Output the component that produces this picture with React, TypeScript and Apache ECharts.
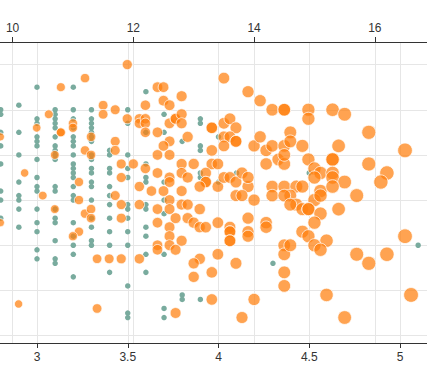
import React, { useEffect, useRef } from 'react';
import * as echarts from 'echarts';

// Green series: bottom axis value (column) and the integer y values in that column
const greenColumns: number[] = [2.8, 2.9, 3.0, 3.1, 3.2, 3.3, 3.4, 3.5, 3.6, 3.7, 3.8, 3.9, 4.0, 4.1, 4.3, 4.5, 5.1];
const greenValues: number[][] = [
  [50, 49, 45, 42, 38, 32, 30, 26],
  [51, 45, 40, 34, 31, 30, 28, 24],
  [55, 48, 47, 44, 43, 42, 39, 35, 33, 32, 28, 25, 23, 19, 17],
  [50, 49, 48, 47, 46, 44, 42, 41, 40, 39, 33, 32, 28, 26, 25, 21, 17, 16],
  [55, 50, 48, 46, 44, 43, 42, 40, 38, 37, 36, 35, 33, 31, 30, 25, 22, 20, 18, 13],
  [50, 48, 47, 46, 45, 44, 43, 40, 39, 37, 36, 34, 33, 30, 26, 24, 21, 20],
  [41, 40, 37, 36, 33, 31, 29, 26, 23, 20, 14],
  [50, 47, 40, 37, 35, 29, 28, 26, 23, 20, 11, 5, 4],
  [54, 45, 38, 35, 34, 29, 28, 24, 22, 18, 14],
  [49, 45, 34, 30, 27, 18, 6, 4],
  [43, 9, 8],
  [48, 47, 42, 41, 36, 35, 8],
  [44, 34],
  [36],
  [16],
  [36],
  [20],
];

// Orange series: [top axis value, y value]
const orangePoints: [number, number][] = [
  [11.9, 60], [11.2, 57], [10.8, 55], [10.6, 49], [10.4, 46], [10.8, 45], [10.8, 45], [11.0, 47], [11.0, 46],
  [11.5, 51], [11.5, 49], [11.7, 50], [11.9, 48], [12.1, 48], [12.1, 47], [9.8, 44], [11.3, 44], [11.2, 41],
  [11.3, 40], [11.7, 43], [11.7, 41], [10.7, 40], [10.2, 36], [11.1, 34], [11.8, 38], [12.0, 38], [11.8, 35],
  [12.1, 33], [10.5, 31], [11.1, 30], [11.7, 31], [11.8, 29], [12.1, 29], [10.7, 28], [9.8, 25], [11.2, 27],
  [11.3, 28], [11.3, 26], [11.8, 26], [11.1, 23], [11.0, 22], [11.4, 17], [11.6, 17], [11.8, 17], [12.1, 17],
  [10.1, 7], [11.4, 6], [12.5, 32],
  [13.5, 57], [12.4, 55], [12.5, 55], [12.2, 51], [12.5, 52], [12.6, 51], [12.8, 53], [13.9, 54], [14.1, 52],
  [14.3, 50], [14.5, 50], [14.5, 50], [12.2, 48], [12.2, 47], [12.2, 45], [12.4, 45], [12.6, 47], [12.7, 48],
  [12.7, 48], [12.8, 49], [12.8, 47], [13.3, 46], [13.3, 46], [13.5, 47], [13.6, 48], [13.7, 46], [13.5, 44],
  [13.6, 44], [13.7, 43], [13.7, 43], [13.5, 42], [12.9, 44], [12.6, 43], [12.5, 42], [12.4, 40], [12.6, 40],
  [13.3, 41], [14.0, 42], [14.1, 44], [14.2, 41], [14.3, 42], [14.5, 42], [14.2, 38], [14.4, 39], [14.5, 38],
  [12.2, 37], [12.8, 38], [13.0, 38], [13.3, 38], [13.4, 38], [12.4, 36], [12.6, 35], [12.6, 34], [12.8, 36],
  [12.9, 35], [13.2, 36], [13.2, 34], [13.2, 34], [13.1, 33], [13.4, 33], [13.5, 35], [13.6, 35], [13.7, 34],
  [13.8, 36], [13.9, 33], [13.9, 35], [12.3, 32], [12.8, 32], [14.3, 33], [14.5, 33],
  [14.9, 50], [14.9, 48], [15.3, 50], [15.5, 49], [15.9, 45], [16.5, 41], [14.6, 45], [14.6, 43], [14.5, 40],
  [14.8, 42], [15.4, 42], [14.9, 39], [15.3, 39], [15.3, 39], [15.0, 37], [15.1, 36], [15.0, 35], [15.3, 36],
  [15.3, 35], [15.5, 34], [15.9, 38], [16.2, 36], [16.1, 34], [14.7, 33], [14.8, 33], [15.1, 32], [15.3, 33],
  [15.7, 31], [14.6, 31], [14.7, 29], [15.0, 30], [15.1, 31],
  [12.4, 28], [12.6, 30], [12.8, 29], [12.9, 29], [13.1, 28], [12.6, 28], [12.7, 26], [12.9, 26], [13.0, 25],
  [13.1, 24], [13.2, 24], [12.4, 25], [12.6, 24], [12.6, 22], [12.8, 21], [12.4, 20], [12.4, 19], [12.6, 20],
  [12.7, 19], [13.4, 25], [13.6, 24], [13.6, 23], [13.6, 23], [13.6, 21], [13.6, 21], [13.9, 26], [13.9, 23],
  [13.9, 22], [14.2, 25], [14.2, 24], [13.7, 31], [13.8, 31], [14.0, 30], [14.3, 31], [14.5, 31], [13.4, 18],
  [13.1, 17], [13.0, 16], [13.0, 13], [13.3, 14], [13.7, 16], [14.5, 20], [14.5, 18], [14.5, 14], [14.5, 11],
  [13.3, 8], [14.0, 8], [12.7, 5], [13.8, 4],
  [14.6, 29], [14.8, 28], [14.9, 28], [14.9, 28], [15.1, 27], [15.4, 28], [15.0, 25], [14.8, 23], [14.9, 22],
  [15.2, 21], [15.0, 20], [15.1, 19], [14.6, 20], [16.5, 22], [15.7, 18], [15.9, 16], [16.2, 18], [15.2, 9],
  [16.6, 9], [15.5, 4],
];

// Visible tick labels of each axis
const bottomLabels: number[] = [3, 3.5, 4, 4.5, 5];
const topLabels: number[] = [10, 12, 14, 16];

const bottomRange: [number, number] = [2.2, 5.5];
const topRange: [number, number] = [8, 17.92];
const yRange: [number, number] = [-1.64, 65];

const FONT = '"Liberation Sans", Arial, sans-serif';

export default function App() {
  const ref = useRef<HTMLDivElement>(null);

  useEffect(() => {
    if (!ref.current) return;
    const chart = echarts.init(ref.current, undefined, { renderer: 'svg' });

    const greenData: [number, number][] = [];
    greenColumns.forEach((c, i) => {
      greenValues[i].forEach((v) => greenData.push([c, v]));
    });

    const axisCommon = {
      type: 'value' as const,
      axisLine: { show: true, onZero: false, lineStyle: { color: '#333', width: 1 } },
      axisTick: { show: true, length: 5, lineStyle: { color: '#333' } },
      splitLine: { show: true, lineStyle: { color: '#e6e6e6', width: 1 } },
    };
    const labelCommon = { color: '#333', fontSize: 12, fontFamily: FONT, margin: 8 };

    chart.setOption({
      animation: false,
      backgroundColor: '#fff',
      grid: { left: 11.8, right: 16.25, top: 42, bottom: 27 },
      xAxis: [
        {
          ...axisCommon,
          position: 'bottom',
          min: bottomRange[0],
          max: bottomRange[1],
          axisLabel: { ...labelCommon, customValues: bottomLabels },
        },
        {
          ...axisCommon,
          position: 'top',
          min: topRange[0],
          max: topRange[1],
          axisLabel: { ...labelCommon, customValues: topLabels },
        },
      ],
      yAxis: {
        type: 'value',
        min: yRange[0],
        max: yRange[1],
        axisLine: { show: false },
        axisTick: { show: false },
        axisLabel: { show: false },
        splitLine: { show: true, lineStyle: { color: '#e6e6e6', width: 1 } },
      },
      series: [
        {
          type: 'scatter',
          xAxisIndex: 0,
          yAxisIndex: 0,
          data: greenData,
          symbolSize: 5.5,
          itemStyle: { color: '#79ab9e', opacity: 1 },
          z: 2,
        },
        {
          type: 'scatter',
          xAxisIndex: 1,
          yAxisIndex: 0,
          data: orangePoints,
          symbolSize: (v: number[]) => v[0] - 1.8,
          itemStyle: { color: '#ff7f0e', opacity: 0.72, borderColor: '#fff', borderWidth: 1 },
          z: 3,
        },
      ],
    });

    return () => chart.dispose();
  }, []);

  return (
    <div
      style={{
        position: 'fixed',
        left: 0,
        top: 0,
        width: 427,
        height: 370,
        overflow: 'hidden',
        background: '#fff',
      }}
    >
      <div ref={ref} style={{ position: 'absolute', left: -120, top: 0, width: 627, height: 370 }} />
    </div>
  );
}
